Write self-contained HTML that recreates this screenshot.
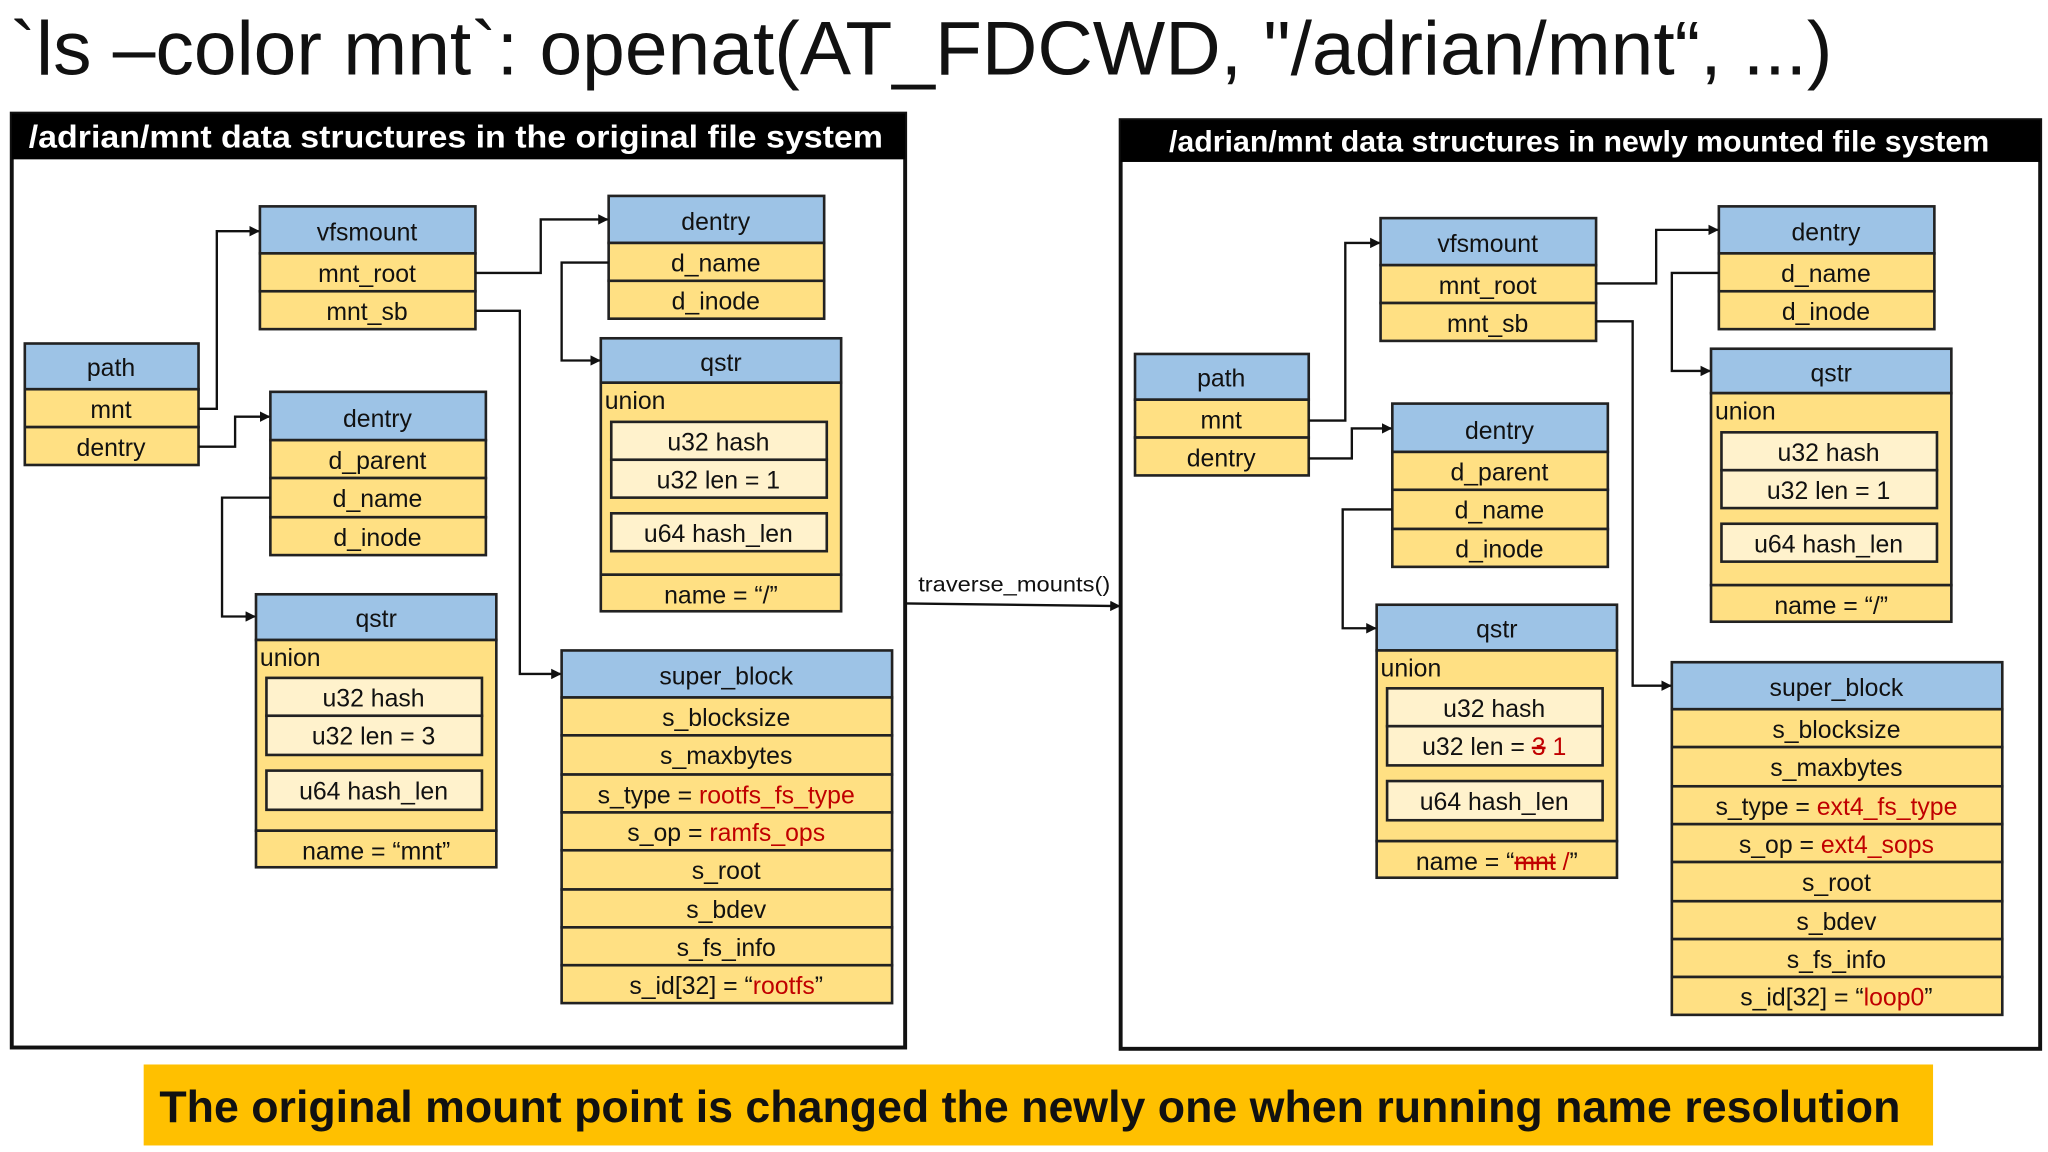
<!DOCTYPE html>
<html><head><meta charset="utf-8"><style>
html,body{margin:0;padding:0;background:#fff;}
svg{display:block;}
text{font-family:"Liberation Sans",sans-serif;fill:#111;}
.h{fill:#9DC3E6;stroke:#222;stroke-width:2;}
.r{fill:#FFE083;stroke:#222;stroke-width:2;}
.c{fill:#FFF2CC;stroke:#222;stroke-width:2;}
.t{font-size:19px;text-anchor:middle;}
.red{fill:#C00000;}
.ln{fill:none;stroke:#111;stroke-width:1.8;}
</style></head><body>
<svg width="2048" height="1152" viewBox="0 0 1568 882" xmlns="http://www.w3.org/2000/svg">
<defs><marker id="a" markerWidth="8" markerHeight="8" refX="7" refY="4" orient="auto" markerUnits="userSpaceOnUse"><path d="M0,0 L8,4 L0,8 z" fill="#111"/></marker></defs>
<rect width="1568" height="882" fill="#fff"/>
<text x="8" y="57" font-size="58" textLength="1395" lengthAdjust="spacingAndGlyphs">`ls –color mnt`: openat(AT_FDCWD, "/adrian/mnt“, ...)</text>

<!-- LEFT PANEL -->
<rect x="9" y="87" width="684" height="715" fill="#fff" stroke="#111" stroke-width="3"/>
<rect x="9" y="87" width="684" height="35" fill="#000"/>
<text x="22" y="113" font-size="24" font-weight="bold" style="fill:#fff" textLength="654" lengthAdjust="spacingAndGlyphs">/adrian/mnt data structures in the original file system</text>

<!-- RIGHT PANEL -->
<rect x="858" y="92" width="704" height="711" fill="#fff" stroke="#111" stroke-width="3"/>
<rect x="858" y="92" width="704" height="32" fill="#000"/>
<text x="895" y="116" font-size="23" font-weight="bold" style="fill:#fff" textLength="628" lengthAdjust="spacingAndGlyphs">/adrian/mnt data structures in newly mounted file system</text>

<!-- traverse arrow -->
<line class="ln" x1="693" y1="462" x2="857" y2="464" marker-end="url(#a)"/>
<text x="703" y="453" font-size="16" textLength="147" lengthAdjust="spacingAndGlyphs">traverse_mounts()</text>

<!-- ===== LEFT BOXES ===== -->
<g id="vfs">
<rect class="h" x="199" y="158" width="165" height="36"/><text class="t" x="281" y="184">vfsmount</text>
<rect class="r" x="199" y="194" width="165" height="29"/><text class="t" x="281" y="216">mnt_root</text>
<rect class="r" x="199" y="223" width="165" height="29"/><text class="t" x="281" y="245">mnt_sb</text>
</g>
<g id="dtop">
<rect class="h" x="466" y="150" width="165" height="36"/><text class="t" x="548" y="176">dentry</text>
<rect class="r" x="466" y="186" width="165" height="29"/><text class="t" x="548" y="208">d_name</text>
<rect class="r" x="466" y="215" width="165" height="29"/><text class="t" x="548" y="237">d_inode</text>
</g>
<g id="path">
<rect class="h" x="19" y="263" width="133" height="35"/><text class="t" x="85" y="288">path</text>
<rect class="r" x="19" y="298" width="133" height="29"/><text class="t" x="85" y="320">mnt</text>
<rect class="r" x="19" y="327" width="133" height="29"/><text class="t" x="85" y="349">dentry</text>
</g>
<g id="dmid">
<rect class="h" x="207" y="300" width="165" height="37"/><text class="t" x="289" y="327">dentry</text>
<rect class="r" x="207" y="337" width="165" height="29"/><text class="t" x="289" y="359">d_parent</text>
<rect class="r" x="207" y="366" width="165" height="30"/><text class="t" x="289" y="388">d_name</text>
<rect class="r" x="207" y="396" width="165" height="29"/><text class="t" x="289" y="418">d_inode</text>
</g>
<g id="qr">
<rect class="h" x="460" y="259" width="184" height="34"/><text class="t" x="552" y="284">qstr</text>
<rect class="r" x="460" y="293" width="184" height="147"/><text x="463" y="313" font-size="19">union</text>
<rect class="c" x="468" y="323" width="165" height="29"/><text class="t" x="550" y="345">u32  hash</text>
<rect class="c" x="468" y="352" width="165" height="29"/><text class="t" x="550" y="374">u32 len = 1</text>
<rect class="c" x="468" y="393" width="165" height="29"/><text class="t" x="550" y="415">u64 hash_len</text>
<rect class="r" x="460" y="440" width="184" height="28"/><text class="t" x="552" y="462">name = “/”</text>
</g>
<g>
<rect class="h" x="196" y="455" width="184" height="35"/><text class="t" x="288" y="480">qstr</text>
<rect class="r" x="196" y="490" width="184" height="146"/><text x="199" y="510" font-size="19">union</text>
<rect class="c" x="204" y="519" width="165" height="29"/><text class="t" x="286" y="541">u32  hash</text>
<rect class="c" x="204" y="548" width="165" height="30"/><text class="t" x="286" y="570">u32 len = 3</text>
<rect class="c" x="204" y="590" width="165" height="30"/><text class="t" x="286" y="612">u64 hash_len</text>
<rect class="r" x="196" y="636" width="184" height="28"/><text class="t" x="288" y="658">name = “mnt”</text>
</g>
<g>
<rect class="h" x="430" y="498" width="253" height="36"/><text class="t" x="556" y="524">super_block</text>
<rect class="r" x="430" y="534" width="253" height="29"/><text class="t" x="556" y="556">s_blocksize</text>
<rect class="r" x="430" y="563" width="253" height="30"/><text class="t" x="556" y="585">s_maxbytes</text>
<rect class="r" x="430" y="593" width="253" height="29"/><text class="t" x="556" y="615">s_type = <tspan class="red">rootfs_fs_type</tspan></text>
<rect class="r" x="430" y="622" width="253" height="29"/><text class="t" x="556" y="644">s_op = <tspan class="red">ramfs_ops</tspan></text>
<rect class="r" x="430" y="651" width="253" height="30"/><text class="t" x="556" y="673">s_root</text>
<rect class="r" x="430" y="681" width="253" height="29"/><text class="t" x="556" y="703">s_bdev</text>
<rect class="r" x="430" y="710" width="253" height="29"/><text class="t" x="556" y="732">s_fs_info</text>
<rect class="r" x="430" y="739" width="253" height="29"/><text class="t" x="556" y="761">s_id[32] = “<tspan class="red">rootfs</tspan>”</text>
</g>
<!-- left connectors -->
<polyline class="ln" points="152,313 166,313 166,177 198,177" marker-end="url(#a)"/>
<polyline class="ln" points="152,342 180,342 180,319 206,319" marker-end="url(#a)"/>
<polyline class="ln" points="364,209 414,209 414,168 465,168" marker-end="url(#a)"/>
<polyline class="ln" points="466,201 430,201 430,276 459,276" marker-end="url(#a)"/>
<polyline class="ln" points="364,238 398,238 398,516 429,516" marker-end="url(#a)"/>
<polyline class="ln" points="207,381 170,381 170,472 195,472" marker-end="url(#a)"/>

<!-- ===== RIGHT BOXES ===== -->
<use href="#vfs" transform="translate(858,9)"/>
<use href="#dtop" transform="translate(850,8)"/>
<use href="#path" transform="translate(850,8)"/>
<use href="#dmid" transform="translate(859,9)"/>
<use href="#qr" transform="translate(850,8)"/>
<g transform="translate(858,8)">
<rect class="h" x="196" y="455" width="184" height="35"/><text class="t" x="288" y="480">qstr</text>
<rect class="r" x="196" y="490" width="184" height="146"/><text x="199" y="510" font-size="19">union</text>
<rect class="c" x="204" y="519" width="165" height="29"/><text class="t" x="286" y="541">u32  hash</text>
<rect class="c" x="204" y="548" width="165" height="30"/><text class="t" x="286" y="570">u32 len = <tspan class="red" text-decoration="line-through">3</tspan> <tspan class="red">1</tspan></text>
<rect class="c" x="204" y="590" width="165" height="30"/><text class="t" x="286" y="612">u64 hash_len</text>
<rect class="r" x="196" y="636" width="184" height="28"/><text class="t" x="288" y="658">name = “<tspan class="red" text-decoration="line-through">mnt</tspan> <tspan class="red">/</tspan>”</text>
</g>
<g transform="translate(850,9)">
<rect class="h" x="430" y="498" width="253" height="36"/><text class="t" x="556" y="524">super_block</text>
<rect class="r" x="430" y="534" width="253" height="29"/><text class="t" x="556" y="556">s_blocksize</text>
<rect class="r" x="430" y="563" width="253" height="30"/><text class="t" x="556" y="585">s_maxbytes</text>
<rect class="r" x="430" y="593" width="253" height="29"/><text class="t" x="556" y="615">s_type = <tspan class="red">ext4_fs_type</tspan></text>
<rect class="r" x="430" y="622" width="253" height="29"/><text class="t" x="556" y="644">s_op = <tspan class="red">ext4_sops</tspan></text>
<rect class="r" x="430" y="651" width="253" height="30"/><text class="t" x="556" y="673">s_root</text>
<rect class="r" x="430" y="681" width="253" height="29"/><text class="t" x="556" y="703">s_bdev</text>
<rect class="r" x="430" y="710" width="253" height="29"/><text class="t" x="556" y="732">s_fs_info</text>
<rect class="r" x="430" y="739" width="253" height="29"/><text class="t" x="556" y="761">s_id[32] = “<tspan class="red">loop0</tspan>”</text>
</g>
<!-- right connectors -->
<polyline class="ln" points="1002,322 1030,322 1030,186 1056,186" marker-end="url(#a)"/>
<polyline class="ln" points="1002,351 1035,351 1035,328 1065,328" marker-end="url(#a)"/>
<polyline class="ln" points="1222,217 1268,217 1268,176 1315,176" marker-end="url(#a)"/>
<polyline class="ln" points="1316,209 1280,209 1280,284 1309,284" marker-end="url(#a)"/>
<polyline class="ln" points="1222,246 1250,246 1250,525 1279,525" marker-end="url(#a)"/>
<polyline class="ln" points="1066,390 1028,390 1028,481 1053,481" marker-end="url(#a)"/>

<!-- bottom banner -->
<rect x="110" y="815" width="1370" height="62" fill="#FFC000"/>
<text x="122" y="859" font-size="34" font-weight="bold" textLength="1333" lengthAdjust="spacingAndGlyphs">The original mount point is changed the newly one when running name resolution</text>
</svg>
</body></html>
